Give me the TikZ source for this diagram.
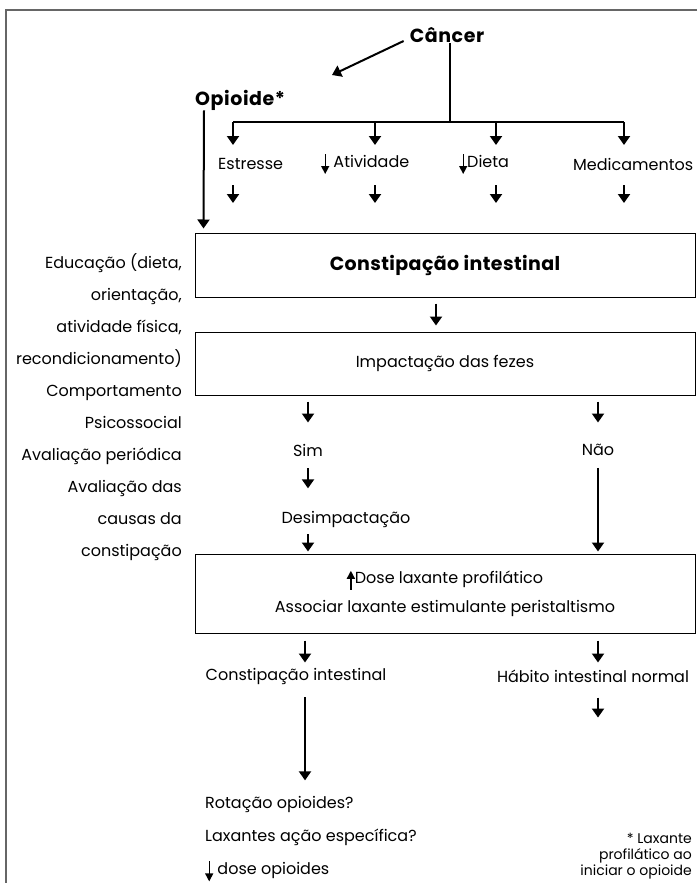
\documentclass[tikz,border=0pt]{standalone}
\usepackage{fontspec}
\setmainfont{Poppins}
\usetikzlibrary{arrows.meta}

\tikzset{
  every node/.style={inner sep=0pt, font=\fontsize{16}{18}\selectfont},
  titulo/.style={font=\fontsize{19}{21}\selectfont\bfseries\addfontfeatures{LetterSpace=3}},
  arr/.style={line width=2pt, -{Triangle[width=12pt,length=9pt]}},
  tinyarr/.style={line width=1.4pt, -{Triangle[width=8pt,length=8pt]}},
  caixa/.style={draw, line width=1pt, minimum width=500pt},
  moldura/.style={draw=gray!80!black, line width=1.5pt},
}
\newcommand{\dnar}{\tikz[baseline=0pt]\draw[tinyarr] (0pt,13pt) -- (0pt,-7pt);}
\newcommand{\upar}{\tikz[baseline=0pt]\draw[tinyarr] (0pt,-6pt) -- (0pt,13pt);}

\begin{document}
\begin{tikzpicture}[x=1pt,y=-1pt]
\useasboundingbox (0,0) rectangle (697,883);
\draw[moldura] (697,10) -- (6,10) -- (6,883);

% topo
\node[titulo] (cancer) at (447,35) {Câncer};
\node[titulo, anchor=west] (opioide) at (195,100) {Opioide*};
\coordinate (opiotip) at (332,75);
\draw[arr] ([xshift=-6pt,yshift=-6pt]cancer.west) -- (opiotip);

\coordinate (junta) at (450,122);
\coordinate (c1) at (233,122);
\coordinate (c2) at (375,122);
\coordinate (c3) at (496,122);
\coordinate (c4) at (624,122);
\draw[line width=2pt] (junta |- cancer.south) -- (junta);
\draw[line width=2pt] (c1) -- (c4);
\foreach \c in {c1,c2,c3,c4}
  \draw[arr] (\c) -- ++(0,23);

\node[anchor=west] (estresse) at (218,164) {Estresse};
\node[anchor=west] (atividade) at (321,164) {\dnar\ Atividade};
\node[anchor=west] (dieta) at (459,164) {\dnar Dieta};
\node[anchor=west] (medic) at (573,164) {Medicamentos};

\foreach \c in {c1,c2,c3,c4}
  \draw[arr] (\c) ++(0,63) -- ++(0,18);

% caixas
\node[caixa, minimum height=64pt, font=\fontsize{19}{21}\selectfont\bfseries\addfontfeatures{LetterSpace=2}]
  (caixa1) at (445,265) {Constipação intestinal};
\draw[arr] ([xshift=9pt]opioide.south west) -- ([xshift=9pt,yshift=4pt]caixa1.north west);

\node[caixa, minimum height=63pt] (caixa2) at (445,363.5) {Impactação das fezes};
\draw[arr] ([xshift=-9pt,yshift=-6pt]caixa1.south) -- ([xshift=-9pt,yshift=6pt]caixa2.north);

\node (sim) at (308,450) {Sim};
\node (nao) at (598,450) {Não};
\draw[arr] ([yshift=-6pt]caixa2.south -| sim) -- ++(0,21);
\draw[arr] ([yshift=-6pt]caixa2.south -| nao) -- ++(0,21);

\node (desimp) at (346,519) {Desimpactação};
\draw[arr] (sim.south) ++(0,12) -- ++(0,20);

\node[caixa, minimum height=79pt, align=center, font=\fontsize{16}{29}\selectfont]
  (caixa3) at (445,593.5) {\upar Dose laxante profilático\\Associar laxante estimulante peristaltismo};
\draw[arr] (desimp.south -| sim) ++(0,7) -- ([yshift=2pt]caixa3.north -| sim);
\draw[arr] (nao.south) ++(0,12) -- ([yshift=2pt]caixa3.north -| nao);

% saida
\node (constip) at (296,676) {Constipação intestinal};
\node (habito) at (593,676) {Hábito intestinal normal};
\draw[arr] ([yshift=-7pt]caixa3.south -| 305,0) -- ++(0,22);
\draw[arr] ([yshift=-7pt]caixa3.south -| nao) -- ++(0,22);
\draw[arr] (constip.south -| 305,0) ++(0,13) -- ++(0,83);
\draw[arr] (habito.south -| nao) ++(0,15) -- ++(0,20);

\node[anchor=north west, align=left, font=\fontsize{16}{33}\selectfont]
  (condutas) at (205,796) {Rotação opioides?\\Laxantes ação específica?\\\dnar\ dose opioides};

% coluna esquerda
\node[anchor=east, align=right, font=\fontsize{16}{32}\selectfont] (educ) at (182,407)
  {Educação (dieta,\\orientação,\\atividade física,\\recondicionamento)\\Comportamento\\Psicossocial\\Avaliação periódica\\Avaliação das\\causas da\\constipação};

% nota
\node[anchor=east, align=right, font=\fontsize{14}{16}\selectfont] (nota) at (692,856)
  {* Laxante\\profilático ao\\iniciar o opioide};
\end{tikzpicture}
\end{document}
